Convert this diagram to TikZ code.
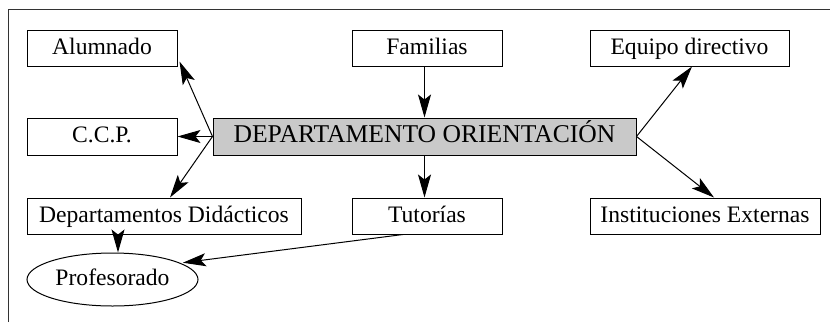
\documentclass[tikz,border=0pt]{standalone}
\usepackage{fontspec}
\setmainfont{Liberation Serif}
\usetikzlibrary{arrows.meta,shapes.geometric}
\begin{document}
\begin{tikzpicture}[x=1pt,y=-1pt,
  box/.style={draw=black,line width=1pt,minimum height=36pt,inner sep=0pt,
    font=\fontsize{23.6}{26}\selectfont,text height=17pt,text depth=5pt},
  conn/.style={line width=1pt,-{Stealth[length=23pt,width=13pt,inset=5pt]}}]
\useasboundingbox (0,0) rectangle (830,322);
\draw[line width=1pt,black!80] (8,322) -- (8,9) -- (830,9);
\node[box,minimum width=150pt] (alum) at (102,48) {Alumnado};
\node[box,minimum width=150pt,minimum height=37pt] (ccp) at (102,136.5) {C.C.P.};
\node[box,minimum width=274pt] (dept) at (164,216) {Departamentos Didácticos};
\node[draw=black,line width=1pt,ellipse,minimum width=171pt,minimum height=53pt,inner sep=0pt,
  font=\fontsize{23.6}{26}\selectfont,text height=17pt,text depth=5pt] (prof) at (112.5,279.5) {Profesorado};
\node[box,minimum width=150pt] (fam) at (427,48) {Familias};
\node[box,minimum width=423pt,minimum height=37pt,fill=black!21,
  font=\fontsize{25.6}{28}\selectfont] (dor) at (424.5,136.5) {DEPARTAMENTO ORIENTACIÓN};
\node[box,minimum width=150pt] (tut) at (427,216) {Tutorías};
\node[box,minimum width=199pt] (equ) at (689.5,48) {Equipo directivo};
\node[box,minimum width=230pt] (inst) at (705,216) {Instituciones Externas};
\draw[conn] (dor.west) -- ([xshift=2pt,yshift=5pt]alum.south east);
\draw[conn] (dor.west) -- (ccp.east);
\draw[conn] (dor.west) -- ([xshift=6pt]dept.north);
\draw[conn] ([xshift=5.5pt]prof.center |- dept.south) -- ([xshift=5.5pt]prof.north);
\draw[conn] ([xshift=-24pt]tut.south) -- ([xshift=3pt]prof.14);
\draw[conn] ([xshift=-2.5pt]fam.south) -- ([xshift=-2.5pt]fam.south |- dor.north);
\draw[conn] ([xshift=-2.5pt]tut.north |- dor.south) -- ([xshift=-2.5pt]tut.north);
\draw[conn] (dor.east) -- ([xshift=2.5pt]equ.south);
\draw[conn] (dor.east) -- ([xshift=9pt]inst.north);
\end{tikzpicture}
\end{document}
